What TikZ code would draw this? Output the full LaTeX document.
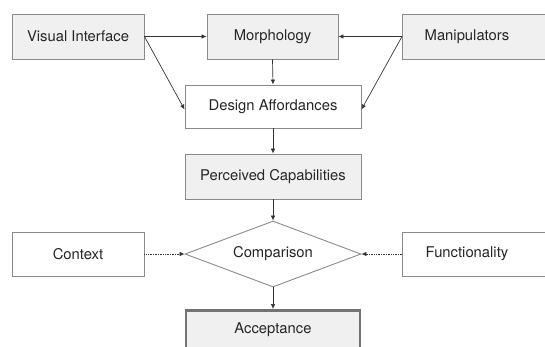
\documentclass[tikz,border=0pt]{standalone}
\usepackage{fontspec}
\setmainfont{TeX Gyre Heros}
\usetikzlibrary{arrows.meta,shapes.geometric}
\definecolor{boxfill}{HTML}{F0F0F0}
\definecolor{boxline}{HTML}{8A8A8A}
\definecolor{arrowcol}{HTML}{333333}
\tikzset{txt/.style={font=\fontsize{14.8}{17}\selectfont,text=black!85}}
\begin{document}
\begin{tikzpicture}[x=1pt,y=-1pt,
  base/.style={draw=boxline,line width=0.9pt,inner sep=0pt,txt},
  graybox/.style={base,fill=boxfill,rectangle},
  whitebox/.style={base,fill=white,rectangle},
  conn/.style={draw=arrowcol,line width=0.7pt,-{Latex[length=5pt,width=4.5pt]}},
  dotconn/.style={conn,densely dotted}]
\useasboundingbox (0,0) rectangle (545,346);
\begin{scope}
\clip (0,0) rectangle (545,346);
\node[graybox,minimum width=132pt,minimum height=45pt] (vi) at (78,36.5) {Visual Interface};
\node[graybox,minimum width=131pt,minimum height=45pt] (mo) at (272.5,36.5) {Morphology};
\node[graybox,minimum width=150pt,minimum height=45pt,anchor=west] (ma) at (402,36.5) {};
\node[txt] (matxt) at (467,36.5) {Manipulators};
\node[whitebox,minimum width=176pt,minimum height=43pt] (da) at (273,106.5) {Design Affordances};
\node[graybox,minimum width=176pt,minimum height=45pt] (pc) at (273,176.5) {Perceived Capabilities};
\node[base,fill=white,diamond,minimum width=176pt,minimum height=66pt,aspect=2.67] (cp) at (273,254) {Comparison};
\node[whitebox,minimum width=132pt,minimum height=44pt] (cx) at (78,254) {Context};
\node[whitebox,minimum width=150pt,minimum height=44pt,anchor=west] (fu) at (402,254) {};
\node[txt] (futxt) at (467,254) {Functionality};
\node[graybox,draw=black!55,line width=2.6pt,minimum width=174pt,minimum height=50pt,anchor=north] (ac) at (273,309) {};
\node[txt] (actxt) at (273,330) {Acceptance};
\end{scope}
\draw[conn] (vi.east) -- (mo.west);
\draw[conn] (vi.east) -- ([yshift=-3pt]da.west);
\draw[conn] (ma.west) -- (mo.east);
\draw[conn] (ma.west) -- ([yshift=-3pt]da.east);
\draw[conn] (mo.south) -- (da.north);
\draw[conn] (da.south) -- (pc.north);
\draw[conn] (pc.south) -- (cp.north);
\draw[conn] (cp.south) -- (ac.north);
\draw[dotconn] (cx.east) -- (cp.west);
\draw[dotconn] (fu.west) -- (cp.east);
\end{tikzpicture}
\end{document}
